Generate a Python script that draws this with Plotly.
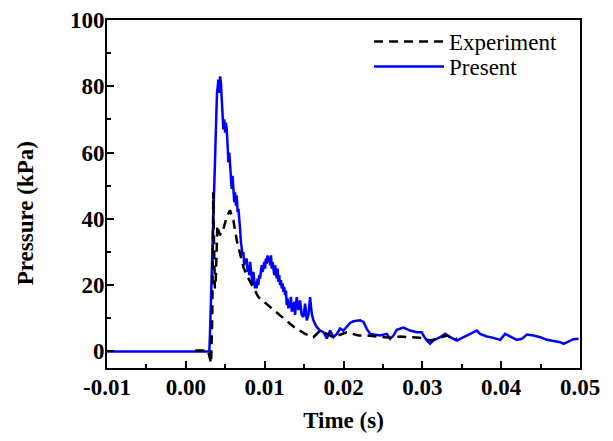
import plotly.graph_objects as go

# Present (simulation) series
present_t = [-0.01, 0.0028, 0.00298, 0.00307, 0.00318, 0.00330, 0.00345, 0.00360, 0.00371,
             0.00385, 0.00395, 0.00405, 0.00413, 0.00424, 0.00434, 0.00445, 0.00455, 0.00466,
             0.00476, 0.00487, 0.00498, 0.00508, 0.00519, 0.00530, 0.00540, 0.00551, 0.00561,
             0.00572, 0.00582, 0.00593, 0.00603, 0.00614, 0.00625, 0.00635, 0.00646, 0.00657,
             0.00667, 0.00678, 0.00688, 0.00699, 0.00709, 0.00720, 0.00730, 0.00740, 0.00750,
             0.00762, 0.00772, 0.00783, 0.00794, 0.00805, 0.00815, 0.00826, 0.00836, 0.00847,
             0.00857, 0.00868, 0.00878, 0.00889, 0.00899, 0.00910, 0.00920, 0.00931, 0.00942,
             0.00952, 0.00963, 0.00973, 0.00984, 0.00994, 0.01005, 0.01015, 0.01026, 0.01037,
             0.01047, 0.01058, 0.01069, 0.01080, 0.01090, 0.01100, 0.01111, 0.01122, 0.01132,
             0.01143, 0.01153, 0.01164, 0.01175, 0.01185, 0.01195, 0.01206, 0.01217, 0.01227,
             0.01238, 0.01248, 0.01259, 0.01270, 0.01280, 0.01290, 0.01301, 0.01312, 0.01322,
             0.01333, 0.01344, 0.01354, 0.01365, 0.01375, 0.01386, 0.01396, 0.01407, 0.01428,
             0.01449, 0.01470, 0.01492, 0.01513, 0.01534, 0.01555, 0.01576, 0.01597, 0.01618,
             0.01661, 0.01703, 0.01745, 0.01788, 0.01830, 0.01872, 0.01915, 0.01957, 0.01999,
             0.02041, 0.02084, 0.02126, 0.02211, 0.02253, 0.02295, 0.02338, 0.02380, 0.02464,
             0.02549, 0.02591, 0.02634, 0.02676, 0.02761, 0.02845, 0.02930, 0.02993, 0.03014,
             0.03057, 0.03099, 0.03141, 0.03226, 0.03289, 0.03353, 0.03437, 0.03480, 0.03564,
             0.03649, 0.03691, 0.03733, 0.03818, 0.03903, 0.03987, 0.04051, 0.04114, 0.04199,
             0.04262, 0.04326, 0.04410, 0.04495, 0.04580, 0.04664, 0.04749, 0.04791, 0.04833,
             0.04918, 0.04981]
present_p = [0.0, 0.0, 0.0, 6.0, 15.0, 30.0, 38.0, 50.0, 60.7,
             75.0, 78.0, 80.0, 82.0, 78.0, 83.0, 81.0, 75.0, 68.0,
             67.0, 70.0, 66.0, 69.0, 67.0, 62.0, 57.0, 60.0, 55.0,
             52.0, 49.0, 53.0, 47.0, 45.0, 48.0, 44.0, 47.0, 42.0,
             43.0, 38.0, 37.0, 33.0, 31.0, 29.0, 30.0, 26.0, 28.0,
             27.0, 28.0, 24.0, 26.0, 23.0, 27.0, 24.0, 22.0, 20.0,
             24.0, 21.0, 19.0, 21.0, 19.0, 22.0, 20.0, 23.0, 22.0,
             24.0, 26.0, 24.0, 25.0, 27.0, 25.0, 28.0, 26.5, 29.0,
             27.0, 28.5, 26.0, 29.0, 25.0, 27.0, 25.5, 23.0, 26.0,
             24.0, 22.0, 25.0, 21.0, 23.0, 20.0, 21.5, 19.0, 20.5,
             18.0, 19.5, 17.0, 18.4, 14.0, 16.0, 13.0, 15.0, 13.3,
             16.5, 12.0, 14.5, 12.0, 15.0, 11.0, 14.0, 16.4, 12.5,
             15.4, 11.0, 10.4, 14.4, 9.4, 11.0, 16.4, 11.4, 9.4,
             7.3, 6.3, 5.8, 3.9, 6.3, 4.3, 5.3, 6.9, 6.3,
             7.3, 8.6, 9.1, 9.4, 8.9, 6.8, 5.3, 5.1, 4.8,
             5.3, 3.8, 4.8, 6.5, 7.2, 6.3, 5.8, 5.8, 4.8,
             3.3, 2.3, 3.3, 4.3, 5.3, 4.3, 3.3, 3.8, 4.8,
             5.8, 6.3, 5.3, 4.5, 4.1, 3.5, 5.3, 4.5, 3.5,
             3.8, 5.1, 4.8, 4.3, 3.5, 3.1, 2.8, 2.3, 2.8,
             3.7, 3.8]

# Experiment series
exp_t = [0.0012, 0.0028, 0.0030, 0.0032, 0.00335, 0.00348, 0.00356, 0.00368, 0.0038,
         0.0040, 0.00413, 0.00434, 0.00455, 0.00476, 0.00519, 0.00561, 0.00582, 0.00603,
         0.00646, 0.00688, 0.0073, 0.00772, 0.00857, 0.00899, 0.0092, 0.01069, 0.01217,
         0.01365, 0.01513, 0.01618, 0.01703, 0.01788, 0.01872, 0.02041, 0.0219, 0.02295,
         0.02464, 0.02591, 0.0272, 0.02845, 0.02972, 0.03099, 0.03184, 0.0331, 0.03437]
exp_p = [0.3, 0.3, -1.5, -3.6, 10.0, 48.0, 35.0, 19.0, 22.0,
         38.0, 36.6, 35.0, 37.0, 37.0, 40.5, 42.6, 41.0, 39.6,
         33.5, 29.5, 25.5, 23.0, 19.4, 17.4, 16.4, 13.4, 10.4,
         7.5, 5.3, 4.3, 6.3, 5.3, 4.3, 5.8, 4.8, 4.8,
         4.5, 4.1, 4.5, 4.3, 4.1, 3.3, 3.8, 4.8, 3.8]

x_range = [-0.01, 0.05]
y_range = [-5, 100]
x_tickvals = [-0.01, 0.0, 0.01, 0.02, 0.03, 0.04, 0.05]
x_ticktext = ["-0.01", "0.00", "0.01", "0.02", "0.03", "0.04", "0.05"]
y_tickvals = [0, 20, 40, 60, 80, 100]
y_ticktext = ["0", "20", "40", "60", "80", "100"]
x_title = "Time (s)"
y_title = "Pressure (kPa)"

FONT = "Liberation Serif"
FS = 23

fig = go.Figure()
fig.add_trace(go.Scatter(x=present_t, y=present_p, mode="lines", name="Present",
                         line=dict(color="#0000ff", width=2.5), legend="legend2"))
fig.add_trace(go.Scatter(x=exp_t, y=exp_p, mode="lines", name="Experiment",
                         line=dict(color="black", width=2.5, dash="9px,6px"), legend="legend"))

axis_common = dict(
    showgrid=False, zeroline=False, showline=True, linecolor="black", linewidth=2,
    mirror=True, ticks="inside", tickcolor="black", tickwidth=2, ticklen=7,
    automargin=False,
    tickfont=dict(family=FONT, size=FS, color="black", weight="bold"),
)

fig.update_xaxes(range=x_range, tickmode="array", tickvals=x_tickvals, ticktext=x_ticktext,
                 ticklabelstandoff=-3,
                 minor=dict(dtick=0.005, tick0=-0.01, ticks="inside", ticklen=4, tickwidth=2,
                            tickcolor="black"),
                 title=dict(text=x_title, font=dict(family=FONT, size=FS, color="black", weight="bold"),
                            standoff=14),
                 **axis_common)
fig.update_yaxes(range=y_range, tickmode="array", tickvals=y_tickvals, ticktext=y_ticktext,
                 ticklabelstandoff=-4,
                 minor=dict(dtick=10, tick0=0, ticks="inside", ticklen=4, tickwidth=2,
                            tickcolor="black"),
                 **axis_common)

fig.add_annotation(text=y_title, textangle=-90, xref="paper", yref="paper",
                   x=-0.173, y=0.445, xanchor="center", yanchor="middle", showarrow=False,
                   font=dict(family=FONT, size=FS, color="black", weight="bold"))

legend_common = dict(xanchor="left", yanchor="top", bgcolor="rgba(0,0,0,0)",
                     font=dict(family=FONT, size=FS, color="black"), itemwidth=70)

# page body has an 8px default margin; size the figure so the plot area lands
# where the reference has it inside the 613x441 window
fig.update_layout(
    width=597, height=425,
    margin=dict(l=99, r=25, t=12, b=65),
    plot_bgcolor="white", paper_bgcolor="white",
    showlegend=True,
    legend=dict(x=0.554, y=1.0, **legend_common),
    legend2=dict(x=0.554, y=0.928, **legend_common),
)

fig.write_html("out.html")
